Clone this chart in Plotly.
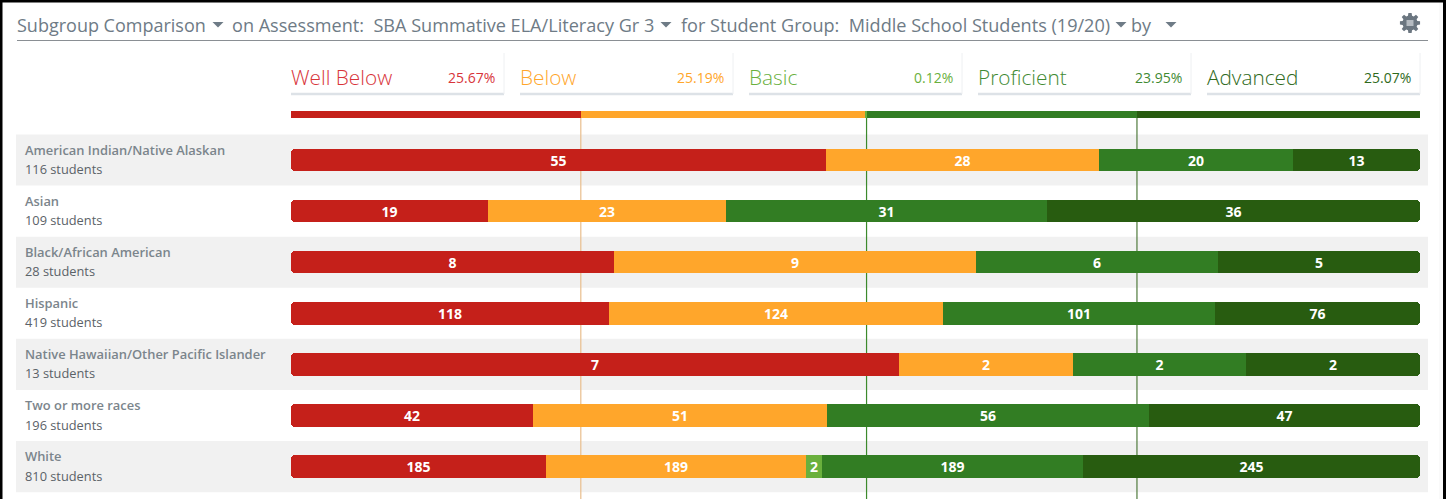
import math
import numpy as np
import plotly.graph_objects as go

groups = ["American Indian/Native Alaskan", "Asian", "Black/African American", "Hispanic",
          "Native Hawaiian/Other Pacific Islander", "Two or more races", "White"]
students = [116, 109, 28, 419, 13, 196, 810]
levels = ["Well Below", "Below", "Basic", "Proficient", "Advanced"]
overall_pct = [25.67, 25.19, 0.12, 23.95, 25.07]
well_below = [55, 19, 8, 118, 7, 42, 185]
below = [28, 23, 9, 124, 2, 51, 189]
basic = [0, 0, 0, 0, 0, 0, 2]
proficient = [20, 31, 6, 101, 2, 56, 189]
advanced = [13, 36, 5, 76, 2, 47, 245]
colors = ["#C5201A", "#FFA62B", "#6AB03D", "#327D23", "#285C10"]
label_colors = ["#D8343A", "#FFA62B", "#6AB03D", "#3F8A33", "#2F6A1C"]
line_colors = ["#E9BE8C", "#3C8A2C", "#4F7A3C"]
TXT = "#6E7B86"
FONT = "Open Sans"

W, H = 1446, 499
L, R = 291, 1420
T, B = 100, 499
ROW0, ROWH = 160, 51.1
BAR_H = 22.5 / ROWH
MIN_SEGMENT_PCT = 16 / (R - L) * 100  # the source widens tiny segments so their label fits
TUCK = 6 / (R - L) * 100  # rounded end bars run on under their neighbour


def px(x):
    return (x - L) / (R - L)


def py(y):
    return (B - y) / (B - T)


def row(y):
    return (y - ROW0) / ROWH


counts = np.array([well_below, below, basic, proficient, advanced], dtype=float)
raw = counts / counts.sum(axis=0) * 100
small = (raw > 0) & (raw < MIN_SEGMENT_PCT)
rest = np.where(small, 0, counts)
pct = np.where(small, MIN_SEGMENT_PCT,
               rest / rest.sum(axis=0) * (100 - small.sum(axis=0) * MIN_SEGMENT_PCT))
cum = np.cumsum(pct, axis=0)
ov = np.array(overall_pct)
ov_share = ov / ov.sum() * 100
ov_cum = np.cumsum(ov_share)
ys = list(range(len(groups)))

fig = go.Figure()
for i, name in enumerate(levels):
    fig.add_trace(go.Bar(y=[row(114.5)], x=[ov_share[i]], base=[ov_cum[i] - ov_share[i]],
                         orientation="h", width=7 / ROWH,
                         marker=dict(color=colors[i], line_width=0),
                         showlegend=False, hoverinfo="skip"))

# rounded ends first, so the square middle segments cover their inner corners
fig.add_trace(go.Bar(y=ys, x=-(pct[0] + TUCK), base=cum[0] + TUCK, orientation="h", width=BAR_H,
                     marker=dict(color=colors[0], line_width=0, cornerradius=4),
                     showlegend=False, hoverinfo="skip"))
fig.add_trace(go.Bar(y=ys, x=pct[4] + TUCK, base=cum[4] - pct[4] - TUCK, orientation="h", width=BAR_H,
                     marker=dict(color=colors[4], line_width=0, cornerradius=4),
                     showlegend=False, hoverinfo="skip"))
for i in (1, 2, 3):
    fig.add_trace(go.Bar(y=ys, x=pct[i], base=cum[i] - pct[i], orientation="h", width=BAR_H,
                         marker=dict(color=colors[i], line_width=0),
                         showlegend=False, hoverinfo="skip"))
# advanced is tucked under proficient, but it must also not overlap it visibly; proficient drawn after
for i, name in enumerate(levels):
    labels = [str(int(c)) if c > 0 else "" for c in counts[i]]
    fig.add_trace(go.Bar(
        y=ys, x=pct[i], base=cum[i] - pct[i],
        orientation="h", width=BAR_H, name=name,
        marker=dict(color="rgba(0,0,0,0)", line_width=0),
        text=labels, textposition="inside", insidetextanchor="middle", textangle=0,
        constraintext="none",
        textfont=dict(family=FONT, size=14, color="white", weight=700),
        showlegend=False, hoverinfo="skip"))

shapes = []
for r in ys[::2]:
    shapes.append(dict(type="rect", xref="paper", yref="y", x0=px(16), x1=px(1428),
                       y0=r - 0.5, y1=r + 0.5, fillcolor="#F1F1F1", line_width=0, layer="below"))
for v, c in zip([ov_cum[0], ov_cum[2], ov_cum[3]], line_colors):
    shapes.append(dict(type="line", xref="x", yref="paper", x0=v, x1=v, y0=0, y1=py(118),
                       line=dict(color=c, width=1.2), layer="below"))
shapes.append(dict(type="line", xref="paper", yref="paper", x0=px(17), x1=px(1428),
                   y0=py(40.5), y1=py(40.5), line=dict(color="#8A8F94", width=1)))
cards = [(291, 504), (520, 733), (749, 962), (978, 1191), (1207, 1420)]
for a, b in cards:
    shapes.append(dict(type="line", xref="paper", yref="paper", x0=px(a), x1=px(b),
                       y0=py(94), y1=py(94), line=dict(color="#DDE2E7", width=2.5)))
    shapes.append(dict(type="line", xref="paper", yref="paper", x0=px(b), x1=px(b),
                       y0=py(53), y1=py(94), line=dict(color="#EEF0F2", width=1)))
# page frame and the faint strip beside it
shapes.append(dict(type="rect", xref="paper", yref="paper", x0=px(1439), x1=px(1443),
                   y0=py(0), y1=py(H), fillcolor="#FAFAFA", line_width=0, layer="below"))
for x0, y0, x1, y1 in [(0, 1, W, 1), (1, 0, 1, H), (1444.5, 0, 1444.5, H)]:
    shapes.append(dict(type="line", xref="paper", yref="paper", x0=px(x0), x1=px(x1),
                       y0=py(y0), y1=py(y1), line=dict(color="black", width=3)))

# settings icon
gx, gy, n = 1410, 23, 8
pts = []
for k in range(n):
    c = 2 * math.pi * k / n
    for da, rad in [(-0.27, 7.6), (-0.16, 10.2), (0.16, 10.2), (0.27, 7.6)]:
        pts.append((gx + rad * math.cos(c + da), gy + rad * math.sin(c + da)))
gear = "M " + " L ".join(f"{px(a):.5f} {py(b):.5f}" for a, b in pts) + " Z"
shapes.append(dict(type="path", xref="paper", yref="paper", path=gear, fillcolor="#6B7680",
                   line_width=0))
shapes.append(dict(type="rect", xref="paper", yref="paper", x0=px(gx - 3.5), x1=px(gx + 3.5),
                   y0=py(gy - 3), y1=py(gy + 3), fillcolor="#B5BBC1", line_width=0))
# dropdown carets
for cx in (218, 666, 1121, 1171):
    tri = f"M {px(cx - 5.5):.5f} {py(22):.5f} L {px(cx + 5.5):.5f} {py(22):.5f} L {px(cx):.5f} {py(27.5):.5f} Z"
    shapes.append(dict(type="path", xref="paper", yref="paper", path=tri, fillcolor=TXT, line_width=0))

ann = []


def text(x, y, s, size, color=TXT, anchor="left", weight=None):
    f = dict(family=FONT, size=size, color=color)
    if weight:
        f["weight"] = weight
    ann.append(dict(xref="paper", yref="paper", x=px(x), y=py(y), text=s, showarrow=False,
                    xanchor=anchor, yanchor="middle", font=f))


text(15, 25, "Subgroup Comparison", 18)
text(230, 25, "on Assessment:  SBA Summative ELA/Literacy Gr 3", 18.1)
text(679, 25, "for Student Group:  Middle School Students (19/20)", 18.1)
text(1129, 25, "by", 18)
for (a, b), name, p, c in zip(cards, levels, overall_pct, label_colors):
    text(a - 2, 77, name, 20.8, c, weight=300)
    text(b - 7.5, 78, f"{p:.2f}%", 14, c, anchor="right")
for r, (g, n_students) in enumerate(zip(groups, students)):
    y = ROW0 + ROWH * r
    text(23, y - 10.5, g, 12.9, "#7B858C", weight=600)
    text(23, y + 9, f"{n_students} students", 12.8, "#5B6268")

fig.update_layout(
    width=W, height=H, autosize=False, barmode="overlay", bargap=0,
    margin=dict(l=L, r=W - R, t=T, b=H - B, pad=0),
    paper_bgcolor="white", plot_bgcolor="rgba(0,0,0,0)",
    font=dict(family=FONT),
    xaxis=dict(range=[0, 100], visible=False, fixedrange=True),
    yaxis=dict(range=[row(B), row(T)], visible=False, fixedrange=True),
    shapes=shapes, annotations=ann, showlegend=False,
)
fig.write_html("out.html", config={"displayModeBar": False},
               post_script="document.body.style.margin='0';document.body.style.overflow='hidden';")
